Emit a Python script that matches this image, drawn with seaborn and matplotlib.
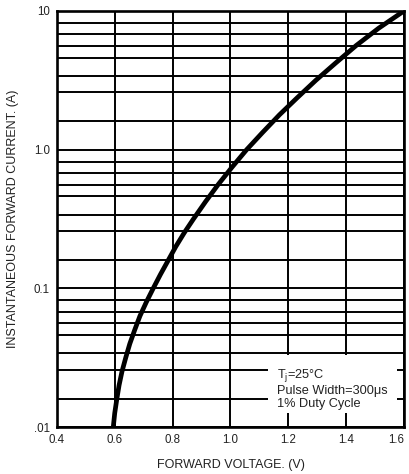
import numpy as np
import pandas as pd
import matplotlib
matplotlib.use('Agg')
from matplotlib import pyplot as plt
from matplotlib.patches import Rectangle
import seaborn as sns

sns.set_theme(style='white')
plt.rcParams['font.family'] = ['Liberation Sans', 'DejaVu Sans']
plt.rcParams['mathtext.default'] = 'regular'

# forward characteristic
current = [0.01, 0.0126, 0.0158, 0.02, 0.0251, 0.0316, 0.0398, 0.0501, 0.0631,
           0.0794, 0.1, 0.126, 0.158, 0.2, 0.251, 0.316, 0.422, 0.562, 0.75,
           1.0, 1.33, 1.78, 2.37, 3.16, 4.22, 5.62, 7.5, 10.0]
voltage = [0.595, 0.600, 0.607, 0.615, 0.625, 0.638, 0.652, 0.669, 0.687,
           0.709, 0.733, 0.758, 0.784, 0.811, 0.840, 0.872, 0.914, 0.958, 1.006,
           1.056, 1.111, 1.169, 1.231, 1.295, 1.364, 1.434, 1.512, 1.60]

x_ticks = [0.4, 0.6, 0.8, 1.0, 1.2, 1.4, 1.6]
x_labels = ['0.4', '0.6', '0.8', '1.0', '1.2', '1.4', '1.6']
y_ticks = [0.01, 0.1, 1.0, 10.0]
y_labels = ['.01', '0.1', '1.0', '10']
# horizontal grid lines inside each decade (as drawn on the sheet)
grid_mult = [1.6, 2.6, 3.4, 4.6, 5.6, 6.8, 8.2]
decades = [0.01, 0.1, 1.0]

note = 'T$_{j}$=25°C\nPulse Width=300μs\n1% Duty Cycle'

df = pd.DataFrame({'V': voltage, 'I': current})

fig = plt.figure(figsize=(4.09, 4.74), dpi=100)
ax = fig.add_axes([0.139, 0.099, 0.849, 0.878])

sns.lineplot(data=df, x='V', y='I', ax=ax, color='black', lw=3.4,
             zorder=4, sort=False, solid_joinstyle='round',
             solid_capstyle='butt')

ax.set_yscale('log')
ax.set_xlim(0.4, 1.6)
ax.set_ylim(0.01, 10)
ax.set_xticks(x_ticks)
ax.set_xticklabels(x_labels)
ax.set_yticks(y_ticks)
ax.set_yticklabels(y_labels)
minor = [d * m for d in decades for m in grid_mult]
ax.set_yticks(minor, minor=True)
ax.set_yticklabels([], minor=True)
ax.tick_params(which='both', length=0, labelsize=8.3, colors='#222222', pad=5)
# last voltage label sits inside the figure edge
ax.get_xticklabels()[-1].set_horizontalalignment('right')

ax.set_axisbelow(True)
ax.grid(True, which='major', axis='both', color='black', lw=1.4)
ax.grid(True, which='minor', axis='y', color='black', lw=1.4)
for s in ax.spines.values():
    s.set_color('black')
    s.set_linewidth(1.9)

# white box hiding the grid behind the test conditions
ax.add_patch(Rectangle((1.13, 0.0126), 0.445, 0.0204, facecolor='white',
                       edgecolor='none', zorder=2))
ax.text(1.16, 0.0272, note, fontsize=9.2, color='#222222', va='top',
        ha='left', linespacing=1.15, zorder=3)

ax.set_xlabel('FORWARD VOLTAGE. (V)', fontsize=9, color='#222222', labelpad=9)
ax.set_ylabel('INSTANTANEOUS FORWARD CURRENT. (A)', fontsize=9,
              color='#222222', labelpad=11)

plt.savefig('out.png', dpi=100)
